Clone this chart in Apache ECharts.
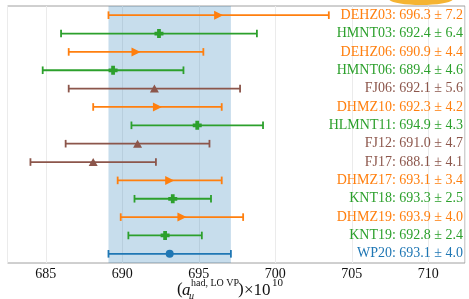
<!DOCTYPE html>
<html><head><meta charset="utf-8">
<script src="https://cdn.jsdelivr.net/npm/echarts@6/dist/echarts.min.js"></script>
<style>html,body{margin:0;padding:0;background:#fff}#c{width:469px;height:299px}</style>
</head><body><div id="c"></div>
<script>
const names = ['DEHZ03','HMNT03','DEHZ06','HMNT06','FJ06','DHMZ10','HLMNT11','FJ12','FJ17','DHMZ17','KNT18','DHMZ19','KNT19','WP20'];
const centers = [696.3, 692.4, 690.9, 689.4, 692.1, 692.3, 694.9, 691.0, 688.1, 693.1, 693.3, 693.9, 692.8, 693.1];
const errors = [7.2, 6.4, 4.4, 4.6, 5.6, 4.2, 4.3, 4.7, 4.1, 3.4, 2.5, 4.0, 2.4, 4.0];
const groups = ['DEHZ','HMNT','DEHZ','HMNT','FJ','DEHZ','HMNT','FJ','FJ','DEHZ','HMNT','DEHZ','HMNT','WP'];
const bandRange = [689.1, 697.1];

const colors = {DEHZ:'#ff7f0e', HMNT:'#2ca02c', FJ:'#8c564b', WP:'#1f77b4'};
const plusPath = 'path://M-1.25,-3H1.25V-1.25H3V1.25H1.25V3H-1.25V1.25H-3V-1.25H-1.25Z';
const symbols = {DEHZ:{symbol:'triangle', rotate:-90, size:[9,9]}, HMNT:{symbol:plusPath, rotate:0, size:[9,9]}, FJ:{symbol:'triangle', rotate:0, size:[9,8]}, WP:{symbol:'circle', rotate:0, size:[8,8]}};

const errData = names.map((n,i)=>[centers[i]-errors[i], centers[i]+errors[i], i]);
const scatterSeries = Object.keys(colors).map(g=>({
  type:'scatter', z:5,
  symbol: symbols[g].symbol, symbolRotate: symbols[g].rotate, symbolSize: symbols[g].size,
  itemStyle:{color:colors[g], opacity:1},
  data: names.map((n,i)=>groups[i]===g?[centers[i], i]:null).filter(d=>d)
}));

const chart = echarts.init(document.getElementById('c'), null, {renderer:'canvas'});
chart.setOption({
  animation:false,
  grid:{left:7.5, right:4, top:6, bottom:36, show:true, borderColor:'#a0a0a0', borderWidth:1},
  xAxis:{type:'value', min:682.5, max:712.4, splitNumber:6,
    axisLine:{show:false}, axisTick:{show:false},
    splitLine:{show:true, lineStyle:{color:'#ebebeb', width:1}},
    axisLabel:{margin:4, color:'#111', fontFamily:'Liberation Serif', fontSize:14,
      showMinLabel:false, showMaxLabel:false,
      formatter:v=> (Math.abs(v%5)<1e-6 ? String(v) : '')}
  },
  yAxis:{type:'value', min:-0.5, max:13.5, inverse:true, show:false},
  graphic:[
    {type:'ellipse', shape:{cx:421, cy:-1, rx:32, ry:6}, style:{fill:'#f5b432'}, z:100},
    {type:'text', x:177, y:290, style:{text:'(', font:'17px "Liberation Serif"', fill:'#111', verticalAlign:'middle'}},
    {type:'text', x:182, y:291, style:{text:'a', font:'italic 17px "Liberation Serif"', fill:'#111', verticalAlign:'middle'}},
    {type:'text', x:189, y:296, style:{text:'μ', font:'italic 10px "Liberation Serif"', fill:'#111', verticalAlign:'middle'}},
    {type:'text', x:191, y:283, style:{text:'had, LO VP', font:'10px "Liberation Serif"', fill:'#111', verticalAlign:'middle'}},
    {type:'text', x:238, y:290, style:{text:')', font:'17px "Liberation Serif"', fill:'#111', verticalAlign:'middle'}},
    {type:'text', x:244, y:291, style:{text:'×10', font:'17px "Liberation Serif"', fill:'#111', verticalAlign:'middle'}},
    {type:'text', x:272, y:283, style:{text:'10', font:'11px "Liberation Serif"', fill:'#111', verticalAlign:'middle'}}
  ],
  series:[
    {type:'custom', z:1, silent:true,
     renderItem:(params, api)=>{
       const cs = params.coordSys;
       const a = api.coord([bandRange[0], -0.5]);
       const b = api.coord([bandRange[1], 13.5]);
       return {type:'rect', shape:{x:a[0], y:cs.y, width:b[0]-a[0], height:cs.height}, style:{fill:'rgba(31,119,180,0.25)'}};
     },
     data:[[0]]},
    {type:'custom', z:3, silent:true,
     encode:{x:[0,1], y:2},
     renderItem:(params, api)=>{
       const i = api.value(2);
       const p0 = api.coord([api.value(0), i]);
       const p1 = api.coord([api.value(1), i]);
       const cs = params.coordSys;
       const col = colors[groups[i]];
       const h = 3.8;
       const label = names[i] + ': ' + centers[i].toFixed(1) + ' \u00b1 ' + errors[i].toFixed(1);
       return {type:'group', children:[
         {type:'line', shape:{x1:p0[0], y1:p0[1], x2:p1[0], y2:p1[1]}, style:{stroke:col, lineWidth:1.8}},
         {type:'line', shape:{x1:p0[0], y1:p0[1]-h, x2:p0[0], y2:p0[1]+h}, style:{stroke:col, lineWidth:1.8}},
         {type:'line', shape:{x1:p1[0], y1:p1[1]-h, x2:p1[0], y2:p1[1]+h}, style:{stroke:col, lineWidth:1.8}},
         {type:'text', z2:10, x:cs.x+cs.width-2, y:p0[1], style:{text:label, fill:col, font:'14px "Liberation Serif"', align:'right', verticalAlign:'middle'}}
       ]};
     },
     data: errData},
    ...scatterSeries
  ]
});
</script></body></html>
